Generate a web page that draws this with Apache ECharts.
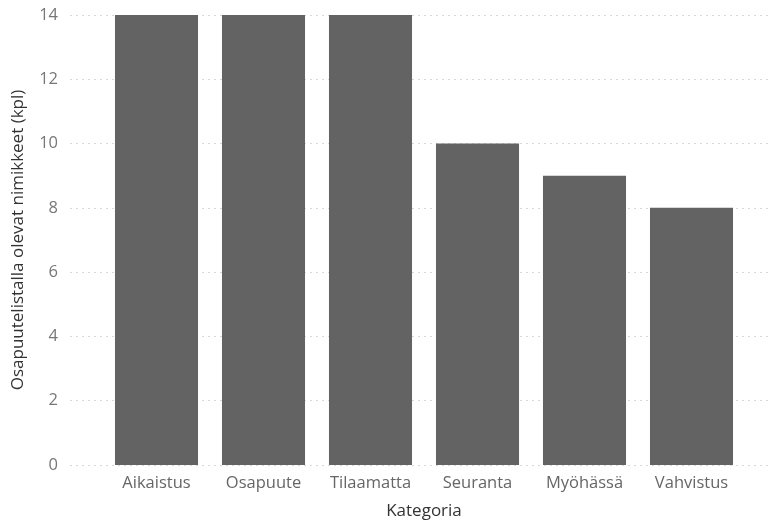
<!DOCTYPE html>
<html>
	<head>
		<meta charset="utf-8" />
		<title></title>
		<style type="text/css">
			html, body { margin: 0; padding: 0; background: #fff; }
			#chart { width: 770px; height: 520px; }
		</style>
		<script src="https://cdn.jsdelivr.net/npm/echarts@6/dist/echarts.min.js" type="text/javascript" charset="utf-8"></script>
	</head>
	<body>
		<div id="chart"></div>
		<script type="text/javascript">
			var categories = ['Aikaistus', 'Osapuute', 'Tilaamatta', 'Seuranta', 'Myöhässä', 'Vahvistus'];
			var counts = [14, 14, 14, 10, 9, 8];
			var yTicks = [0, 2, 4, 6, 8, 10, 12, 14];

			var myChart = echarts.init(document.getElementById('chart'));
			var font = '"Open Sans", "DejaVu Sans", sans-serif';
			var option = {
				animation: false,
				grid: [
					// taustaruudukko + y-akselin luvut
					{ left: 70, right: 0, top: 15, bottom: 55, outerBoundsMode: 'none', containLabel: false },
					// palkit
					{ left: 103, right: 25, top: 15, bottom: 55, outerBoundsMode: 'none', containLabel: false }
				],
				xAxis: [
					{ gridIndex: 0, type: 'value', show: false },
					{
						gridIndex: 1,
						type: 'category',
						data: categories,
						axisLine: { show: false },
						axisTick: { show: false },
						axisLabel: { color: '#666', fontSize: 16.5, fontFamily: font, margin: 10 },
						name: 'Kategoria',
						nameLocation: 'middle',
						nameGap: 38,
						nameTextStyle: { color: '#333', fontSize: 17, fontFamily: font }
					}
				],
				yAxis: [
					{
						gridIndex: 0,
						type: 'value',
						min: yTicks[0],
						max: yTicks[yTicks.length - 1],
						interval: 2,
						axisLine: { show: false },
						axisTick: { show: false },
						axisLabel: { color: '#777', fontSize: 16.5, fontFamily: font, margin: 12 },
						splitLine: { lineStyle: { color: '#d8d8d8', type: [2, 4], width: 1 } },
						name: 'Osapuutelistalla olevat nimikkeet (kpl)',
						nameLocation: 'middle',
						nameGap: 43,
						nameRotate: 90,
						nameTextStyle: { color: '#333', fontSize: 17, fontFamily: font }
					},
					{
						gridIndex: 1,
						type: 'value',
						min: yTicks[0],
						max: yTicks[yTicks.length - 1],
						show: false
					}
				],
				series: [{
					type: 'bar',
					xAxisIndex: 1,
					yAxisIndex: 1,
					data: counts,
					barCategoryGap: '22.4%',
					itemStyle: { color: '#636363' }
				}]
			};
			myChart.setOption(option);
		</script>
	</body>
</html>
